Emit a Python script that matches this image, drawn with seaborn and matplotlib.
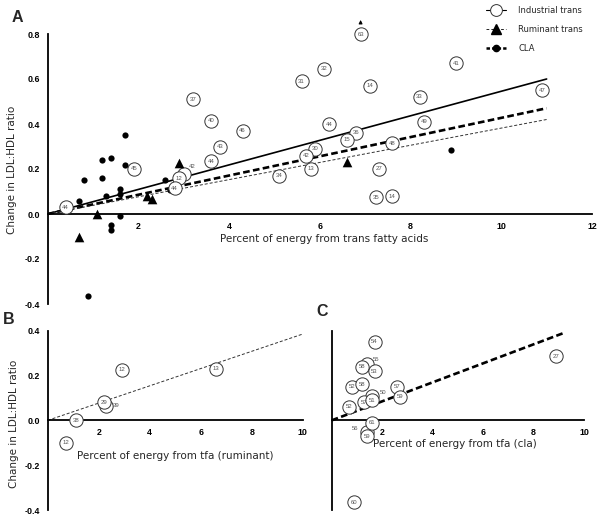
import matplotlib
matplotlib.use("Agg")
import matplotlib.pyplot as plt
import seaborn as sns
from matplotlib.lines import Line2D

# Industrial trans fatty acids (panel A, open circles with study number)
ind_x = [0.4, 1.9, 3.0, 2.9, 2.8, 3.2, 3.6, 4.3, 3.8, 3.6, 5.1, 5.6, 6.1, 7.1, 6.9,
         9.0, 8.2, 10.9, 6.2, 8.3, 6.8, 6.6, 5.9, 5.7, 5.8, 7.6, 7.3, 7.25, 7.6]
ind_y = [0.03, 0.20, 0.18, 0.16, 0.115, 0.51, 0.415, 0.37, 0.30, 0.235, 0.17, 0.59, 0.645, 0.57, 0.80,
         0.67, 0.52, 0.55, 0.40, 0.41, 0.36, 0.33, 0.29, 0.26, 0.20, 0.315, 0.20, 0.075, 0.08]
ind_lab = ["44", "45", "42", "12", "44", "37", "40", "46", "43", "44", "34", "31", "32", "14", "63",
           "41", "33", "47", "44", "49", "36", "15", "30", "42", "13", "48", "27", "35", "14"]

# Ruminant trans (triangles in A, numbered circles in B)
rum_x = [0.7, 1.1, 2.3, 2.2, 2.9, 6.6]
rum_y = [-0.10, 0.0, 0.065, 0.08, 0.225, 0.23]
rum_lab = ["12", "38", "39", "29", "12", "13"]

# CLA (filled dots in A, numbered circles in C)
cla_x = [1.7, 1.4, 1.2, 1.7, 0.8, 1.2, 1.6, 1.3, 1.6, 0.7, 2.6, 2.7, 8.9, 1.4, 1.6, 1.4, 0.9]
cla_y = [0.35, 0.25, 0.24, 0.22, 0.15, 0.16, 0.11, 0.08, 0.09, 0.06, 0.15, 0.105, 0.285,
         -0.05, -0.01, -0.07, -0.365]
cla_lab = ["54", "55", "58", "53", "52", "58", "50", "57", "51", "52", "57", "59", "27",
           "56", "61", "59", "60"]

# fitted lines (end points)
ind_fit_x, ind_fit_y = [0, 11], [0, 0.60]
rum_fit_x, rum_fit_y = [0, 11], [0, 0.42]
cla_fit_x, cla_fit_y = [0, 11], [0, 0.47]
rumB_fit_x, rumB_fit_y = [0, 10], [0, 0.385]
claC_fit_x, claC_fit_y = [0, 9.2], [0, 0.39]

yticksA = [-0.4, -0.2, 0.0, 0.2, 0.4, 0.6, 0.8]
yticksA_lab = ["-0.4", "-0.2", "0.0", "0.2", "0.4", "0.6", "0.8"]
yticksB = [-0.4, -0.2, 0.0, 0.2, 0.4]
yticksB_lab = ["-0.4", "-0.2", "0.0", "0.2", "0.4"]
xticksA = [2, 4, 6, 8, 10, 12]
xticksBC = [2, 4, 6, 8, 10]

# labels drawn beside the circle instead of inside (offset in points)
out_A = {2: (6.5, 5)}
out_B = {2: (7, 0)}
out_C = {1: (6.7, 3.4), 6: (7.7, 2.4), 13: (-8.4, 2)}

sns.set_style("white")
plt.rcParams['font.family'] = ['DejaVu Sans']
plt.rcParams['lines.scale_dashes'] = False

W, H = 600, 517
fig = plt.figure(figsize=(6, 5.17), dpi=100)


def px_axes(x0, y0, x1, y1):
    return fig.add_axes([x0 / W, 1 - y1 / H, (x1 - x0) / W, (y1 - y0) / H])


axA = px_axes(47.5, 34, 592, 304)
axB = px_axes(47.7, 330.7, 302.7, 510)
axC = px_axes(331.7, 330.7, 584, 510)

tickfont = dict(family='Liberation Sans', weight='bold', size=6.4)


def style(ax, xmax, ymin, ymax, xt, yt=None, ytl=None):
    ax.set_xlim(0, xmax)
    ax.set_ylim(ymin, ymax)
    ax.patch.set_visible(False)
    for s in ['top', 'right']:
        ax.spines[s].set_visible(False)
    ax.spines['bottom'].set_position(('data', 0))
    for s in ['left', 'bottom']:
        ax.spines[s].set_linewidth(1.3)
        ax.spines[s].set_color('black')
    ax.tick_params(direction='out', length=3.6, width=1.0, pad=2, colors='black')
    ax.set_xticks(xt, labels=[str(v) for v in xt], fontdict=tickfont)
    if yt is None:
        ax.set_yticks([])
    else:
        ax.set_yticks(yt, labels=ytl, fontdict=tickfont)


def circles(ax, xs, ys, labs, outside):
    sns.scatterplot(x=xs, y=ys, ax=ax, marker='o', s=92, color='white',
                    edgecolor='#333333', linewidth=0.7, zorder=3, clip_on=False, legend=False)
    for i, (x, y, t) in enumerate(zip(xs, ys, labs)):
        dx, dy = outside.get(i, (0, 0))
        ax.annotate(t, (x, y), xytext=(dx, dy), textcoords='offset points', ha='center',
                    va='center', fontsize=4.3, color='#555555', family='Liberation Sans',
                    zorder=4, annotation_clip=False)


def fit(ax, xs, ys, kind):
    if kind == 'solid':
        sns.lineplot(x=xs, y=ys, ax=ax, color='black', linewidth=1.2, zorder=2)
    elif kind == 'thick':
        sns.lineplot(x=xs, y=ys, ax=ax, color='black', linewidth=1.9, zorder=2)
        ax.lines[-1].set_dashes([4.8, 2.4])
    else:
        sns.lineplot(x=xs, y=ys, ax=ax, color='#333333', linewidth=0.7, zorder=2)
        ax.lines[-1].set_dashes([2.2, 1.4])


# ---- Panel A
style(axA, 12, -0.4, 0.8, xticksA, yticksA, yticksA_lab)
fit(axA, ind_fit_x, ind_fit_y, 'solid')
fit(axA, cla_fit_x, cla_fit_y, 'thick')
fit(axA, rum_fit_x, rum_fit_y, 'thin')
sns.scatterplot(x=cla_x, y=cla_y, ax=axA, marker='o', s=20, color='black',
                linewidth=0, zorder=3, legend=False)
circles(axA, ind_x, ind_y, ind_lab, out_A)
sns.scatterplot(x=rum_x, y=rum_y, ax=axA, marker='^', s=48, color='black',
                linewidth=0, zorder=5, legend=False)
axA.annotate('', xy=(6.9, 0.875), xytext=(6.9, 0.835),
             arrowprops=dict(arrowstyle='-|>', color='black', lw=0.8, mutation_scale=5),
             annotation_clip=False)
axA.text(6.1, -0.11, "Percent of energy from trans fatty acids", ha='center', va='center',
         fontsize=7.5)
fig.text(12 / W, 1 - 170 / H, "Change in LDL:HDL ratio", rotation=90, ha='center',
         va='center', fontsize=7.5)

# ---- Panel B
style(axB, 10, -0.4, 0.4, xticksBC, yticksB, yticksB_lab)
fit(axB, rumB_fit_x, rumB_fit_y, 'thin')
circles(axB, rum_x, rum_y, rum_lab, out_B)
axB.text(5.0, -0.16, "Percent of energy from tfa (ruminant)", ha='center', va='center',
         fontsize=7.5)
fig.text(14 / W, 1 - 424 / H, "Change in LDL:HDL ratio", rotation=90, ha='center',
         va='center', fontsize=7.5)

# ---- Panel C
style(axC, 10, -0.4, 0.4, xticksBC)
fit(axC, claC_fit_x, claC_fit_y, 'thick')
circles(axC, cla_x, cla_y, cla_lab, out_C)
axC.text(4.9, -0.105, "Percent of energy from tfa (cla)", ha='center', va='center',
         fontsize=7.5)

# panel letters
for lx, ly, t in [(17.5, 18, "A"), (8.5, 319, "B"), (322, 312, "C")]:
    fig.text(lx / W, 1 - ly / H, t, ha='center', va='center', fontsize=11.5,
             fontweight='bold', family='Liberation Sans')

# legend
handles = [
    Line2D([], [], color='black', lw=0.8, marker='o', markersize=8.5, markerfacecolor='white',
           markeredgecolor='#333333', markeredgewidth=0.7),
    Line2D([], [], color='black', lw=0.6, dashes=[2, 1.5], marker='^', markersize=6.5),
    Line2D([], [], color='black', lw=1.8, dashes=[2.5, 1.5], marker='o', markersize=4.5),
]
fig.legend(handles, ["Industrial trans", "Ruminant trans", "CLA"], loc='upper left',
           bbox_to_anchor=(486 / W, 1 - 6 / H), frameon=False, fontsize=6,
           handlelength=2.4, handletextpad=1.5, labelspacing=1.2, borderpad=0,
           borderaxespad=0)

fig.savefig("out.png", dpi=100)
